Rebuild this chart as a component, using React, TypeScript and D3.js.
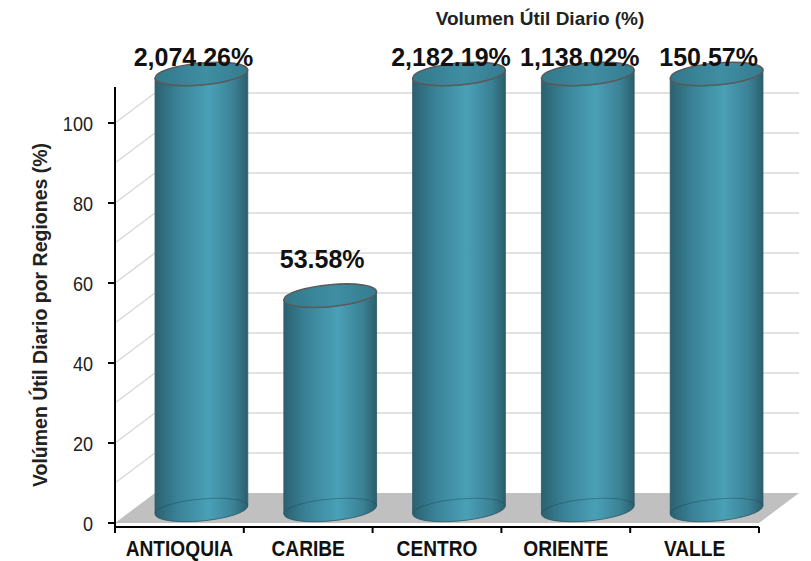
import React, { useEffect, useRef } from 'react'
import * as d3 from 'd3'

// chart data
const regiones = ['ANTIOQUIA', 'CARIBE', 'CENTRO', 'ORIENTE', 'VALLE']
const volumenUtil = [2074.26, 53.58, 2182.19, 1138.02, 150.57]
const yTicks = [0, 20, 40, 60, 80, 100]
const gridValues = [10, 20, 30, 40, 50, 60, 70, 80, 90, 100]

const W = 811
const H = 561
const yMax = 109 // axis stops a little above 100, taller bars get cut
const depthX = 40
const depthY = 30
const skew = -5

const fmt = d3.format(',.2f')

export default function App() {
  const svgRef = useRef<SVGSVGElement>(null)

  useEffect(() => {
    document.body.style.margin = '0'
    const svg = d3.select(svgRef.current)
    svg.selectAll('*').remove()

    // 1] scales
    const x = d3.scaleBand().domain(regiones).range([115, 759]).padding(0)
    const y = d3.scaleLinear().domain([0, yMax]).range([523, 87])
    const x0 = x.range()[0]
    const x1 = x.range()[1]

    const defs = svg.append('defs')
    const body = defs.append('linearGradient').attr('id', 'cylBody')
      .attr('x1', 0).attr('x2', 1).attr('y1', 0).attr('y2', 0)
    body.append('stop').attr('offset', '0%').attr('stop-color', '#2a6170')
    body.append('stop').attr('offset', '25%').attr('stop-color', '#3a8398')
    body.append('stop').attr('offset', '58%').attr('stop-color', '#4aa0b6')
    body.append('stop').attr('offset', '85%').attr('stop-color', '#3b8195')
    body.append('stop').attr('offset', '100%').attr('stop-color', '#2a5f6d')
    const top = defs.append('linearGradient').attr('id', 'cylTop')
      .attr('x1', 0).attr('x2', 1).attr('y1', 0).attr('y2', 0)
    top.append('stop').attr('offset', '0%').attr('stop-color', '#32788a')
    top.append('stop').attr('offset', '55%').attr('stop-color', '#3f8ea3')
    top.append('stop').attr('offset', '100%').attr('stop-color', '#357b8e')

    // 2] floor + back wall grid
    svg.append('path')
      .attr('d', `M${x0},${y(0)}L${x1},${y(0)}L${x1 + depthX},${y(0) - depthY}L${x0 + depthX},${y(0) - depthY}Z`)
      .attr('fill', '#c0c0c0')

    svg.append('g').selectAll('path').data(gridValues).join('path')
      .attr('d', d => `M${x0},${y(d)}L${x0 + depthX},${y(d) - depthY}L${x1 + depthX},${y(d) - depthY}`)
      .attr('fill', 'none')
      .attr('stroke', '#d9d9d9')
      .attr('stroke-width', 1.5)

    // 3] axes
    const axisY = y(0) + 4
    svg.append('line').attr('x1', x0).attr('x2', x0).attr('y1', y(yMax)).attr('y2', axisY)
      .attr('stroke', '#000').attr('stroke-width', 2)
    svg.append('g').selectAll('line').data(yTicks).join('line')
      .attr('x1', x0 - 7).attr('x2', x0).attr('y1', d => y(d)).attr('y2', d => y(d))
      .attr('stroke', '#000').attr('stroke-width', 2)
    svg.append('g').selectAll('text').data(yTicks).join('text')
      .attr('transform', d => `translate(93,${y(d)}) scale(0.86,1)`)
      .attr('text-anchor', 'end')
      .attr('dy', '0.36em')
      .attr('font-family', 'Liberation Sans, Arial, sans-serif')
      .attr('font-size', 21)
      .attr('fill', '#222')
      .text(d => d)

    svg.append('line').attr('x1', x0).attr('x2', x1).attr('y1', axisY).attr('y2', axisY)
      .attr('stroke', '#000').attr('stroke-width', 2)
    const edges = regiones.map(r => x(r) as number).concat([x1])
    svg.append('g').selectAll('line').data(edges).join('line')
      .attr('x1', d => d).attr('x2', d => d).attr('y1', axisY).attr('y2', axisY + 6)
      .attr('stroke', '#000').attr('stroke-width', 2)
    svg.append('g').selectAll('text').data(regiones).join('text')
      .attr('transform', d => `translate(${(x(d) as number) + x.bandwidth() / 2},556) scale(0.87,1)`)
      .attr('text-anchor', 'middle')
      .attr('font-family', 'Liberation Sans, Arial, sans-serif')
      .attr('font-weight', 'bold')
      .attr('font-size', 22)
      .attr('fill', '#111')
      .text(d => d)

    // 4] cylinders
    const rx = x.bandwidth() * 0.36
    const ry = 11
    const bars = svg.append('g').selectAll('g').data(regiones).join('g')
      .attr('transform', d => `translate(${(x(d) as number) + x.bandwidth() / 2 + 22},0) skewY(${skew})`)

    bars.each(function (d, i) {
      const g = d3.select(this)
      const yt = y(Math.min(volumenUtil[i], yMax)) - 13
      const yb = y(0) - 13
      g.append('path')
        .attr('d', `M${-rx},${yt}L${-rx},${yb}A${rx},${ry} 0 0 0 ${rx},${yb}L${rx},${yt}A${rx},${ry} 0 0 1 ${-rx},${yt}Z`)
        .attr('fill', 'url(#cylBody)')
        .attr('stroke', '#2b5a66')
        .attr('stroke-width', 0.8)
      g.append('path')
        .attr('d', `M${-rx},${yb}A${rx},${ry} 0 0 1 ${rx},${yb}`)
        .attr('fill', 'none')
        .attr('stroke', 'rgba(25,75,90,0.45)')
        .attr('stroke-width', 1)
      g.append('ellipse')
        .attr('cx', 0).attr('cy', yt).attr('rx', rx).attr('ry', ry)
        .attr('fill', 'url(#cylTop)')
        .attr('stroke', '#5a5a5a')
        .attr('stroke-width', 1.6)
    })

    // 5] value labels
    svg.append('g').selectAll('text').data(regiones).join('text')
      .attr('x', d => (x(d) as number) + x.bandwidth() / 2 + 14)
      .attr('y', (d, i) => Math.max(y(volumenUtil[i]) - 41, y(yMax) - 21))
      .attr('text-anchor', 'middle')
      .attr('font-family', 'Liberation Sans, Arial, sans-serif')
      .attr('font-weight', 'bold')
      .attr('font-size', 25)
      .attr('fill', '#111')
      .text((d, i) => fmt(volumenUtil[i]) + '%')

    // 6] titles
    svg.append('text')
      .attr('x', 540).attr('y', 25)
      .attr('text-anchor', 'middle')
      .attr('font-family', 'Liberation Sans, Arial, sans-serif')
      .attr('font-weight', 'bold')
      .attr('font-size', 19)
      .attr('fill', '#222')
      .text('Volumen Útil Diario (%)')
    svg.append('text')
      .attr('transform', 'translate(47,315) rotate(-90)')
      .attr('text-anchor', 'middle')
      .attr('font-family', 'Liberation Sans, Arial, sans-serif')
      .attr('font-weight', 'bold')
      .attr('font-size', 19.5)
      .attr('fill', '#222')
      .text('Volúmen Útil Diario por Regiones (%)')
  }, [])

  return (
    <svg ref={svgRef} width={W} height={H} style={{ display: 'block', background: '#fff' }} />
  )
}
